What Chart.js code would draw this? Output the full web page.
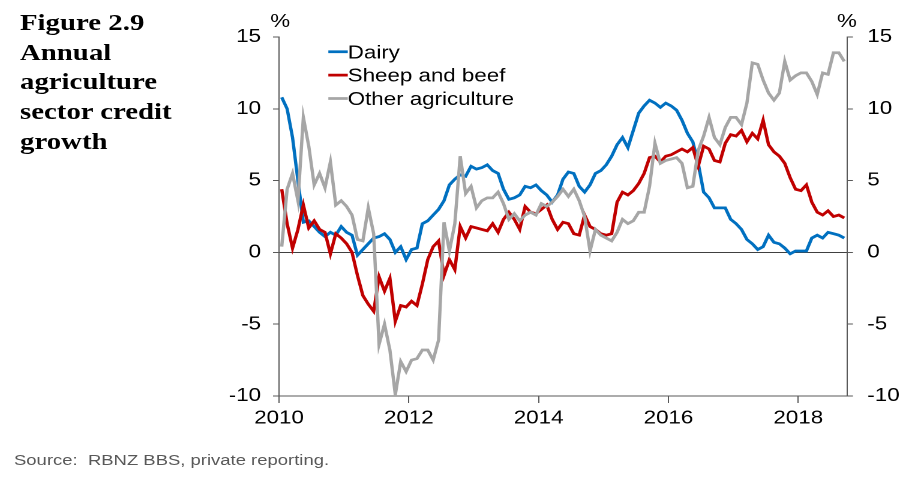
<!DOCTYPE html>
<html>
<head>
<meta charset="utf-8">
<script src="https://cdn.jsdelivr.net/npm/chart.js@4.4.1/dist/chart.umd.min.js"></script>
<style>
body { margin: 0; background: #fff; }
#wrap { position: absolute; left: 0; top: 0; width: 755px; height: 482px; transform: scaleX(1.2); transform-origin: 0 0; }
#title { position: absolute; left: 16.7px; top: 8px; font: bold 24px/29.7px 'Liberation Serif', 'Times New Roman', serif; color: #000; }
#source { position: absolute; left: 11.7px; top: 451px; font: 15.4px 'Liberation Sans', Arial, sans-serif; color: #595959; white-space: pre; }
canvas { position: absolute; left: 0; top: 0; }
</style>
</head>
<body>
<div id="wrap">
  <div id="title">Figure 2.9<br>Annual<br>agriculture<br>sector credit<br>growth</div>
  <canvas id="creditChart" width="755" height="482"></canvas>
  <div id="source">Source:  RBNZ BBS, private reporting.</div>
</div>
<script>
// monthly annual growth, Jan 2010 - Sep 2018 (%)
const dairy = [10.8, 10.0, 8.0, 5.0, 2.1, 2.2, 1.8, 1.4, 1.1, 1.4,
  1.2, 1.8, 1.4, 1.2, -0.2, 0.2, 0.6, 1.0, 1.1, 1.3,
  0.9, 0.0, 0.4, -0.5, 0.2, 0.3, 2.0, 2.2, 2.6, 3.0,
  3.6, 4.7, 5.1, 5.4, 5.3, 6.0, 5.8, 5.9, 6.1, 5.7,
  5.5, 4.4, 3.7, 3.8, 4.0, 4.6, 4.5, 4.7, 4.3, 4.0,
  3.5, 4.0, 5.1, 5.6, 5.5, 4.6, 4.2, 4.7, 5.5, 5.7,
  6.1, 6.7, 7.5, 8.0, 7.3, 8.5, 9.7, 10.2, 10.6, 10.4,
  10.1, 10.4, 10.2, 9.9, 9.2, 8.3, 7.7, 6.2, 4.2, 3.8,
  3.1, 3.1, 3.1, 2.3, 2.0, 1.6, 0.9, 0.6, 0.2, 0.4,
  1.2, 0.7, 0.6, 0.3, -0.1, 0.1, 0.1, 0.1, 1.0, 1.2,
  1.0, 1.4, 1.3, 1.2, 1.0];
const sheepBeef = [4.4, 2.0, 0.3, 1.6, 3.3, 1.7, 2.2, 1.6, 1.4, -0.1,
  1.3, 1.0, 0.6, 0.0, -1.6, -3.0, -3.6, -4.1, -1.7, -2.7,
  -1.8, -4.8, -3.7, -3.8, -3.4, -3.7, -2.2, -0.5, 0.4, 0.8,
  -1.6, -0.5, -1.2, 1.8, 1.0, 1.8, 1.7, 1.6, 1.5, 2.0,
  1.4, 2.3, 2.8, 2.3, 1.6, 3.2, 2.8, 2.7, 3.0, 3.3,
  2.3, 1.6, 2.1, 2.0, 1.3, 1.2, 2.6, 1.8, 1.6, 1.3,
  1.2, 1.3, 3.5, 4.2, 4.0, 4.3, 4.8, 5.5, 6.6, 6.7,
  6.3, 6.7, 6.8, 7.0, 7.2, 7.0, 7.3, 6.0, 7.4, 7.2,
  6.4, 6.3, 7.6, 8.2, 8.1, 8.5, 7.7, 8.3, 7.9, 9.2,
  7.5, 7.0, 6.7, 6.2, 5.2, 4.4, 4.3, 4.7, 3.5, 2.8,
  2.6, 2.9, 2.5, 2.6, 2.4];
const otherAg = [0.4, 4.4, 5.5, 3.6, 9.4, 7.4, 4.7, 5.5, 4.5, 6.3,
  3.3, 3.6, 3.2, 2.6, 0.9, 0.8, 3.1, 1.3, -6.4, -5.0,
  -6.8, -9.9, -7.6, -8.3, -7.5, -7.4, -6.8, -6.8, -7.5, -6.1,
  2.1, 0.1, 2.0, 6.7, 4.1, 4.6, 3.1, 3.6, 3.8, 3.8,
  4.2, 3.4, 2.3, 2.7, 2.2, 2.6, 2.8, 2.6, 3.4, 3.2,
  3.5, 3.9, 4.4, 3.9, 4.4, 3.6, 2.5, 0.1, 1.6, 1.2,
  1.0, 0.8, 1.4, 2.3, 2.0, 2.2, 2.8, 2.8, 4.6, 7.6,
  6.2, 6.4, 6.5, 6.6, 6.2, 4.5, 4.6, 7.1, 8.1, 9.4,
  8.0, 7.5, 8.7, 9.4, 9.4, 8.9, 10.4, 13.2, 13.1, 12.0,
  11.1, 10.6, 11.1, 13.3, 12.0, 12.3, 12.5, 12.5, 11.9, 11.0,
  12.5, 12.4, 13.9, 13.9, 13.3];

const tickMonths = [0, 24, 48, 72, 96];
const yearLabels = ['2010', '2012', '2014', '2016', '2018'];

const FONT = "'Liberation Sans', Arial, sans-serif";
const AXIS = '#595959';

// points sit mid-month
const toPoints = arr => arr.map((v, i) => ({ x: i + 0.5, y: v }));

// legend inside the plot + the two % marks
const extras = {
    id: 'extras',
    afterDraw(chart) {
        const ctx = chart.ctx;
        const area = chart.chartArea;
        ctx.save();
        ctx.font = '18.6px ' + FONT;
        ctx.textBaseline = 'alphabetic';
        chart.data.datasets.forEach((ds, i) => {
            const base = 58.3 + i * 23.4;
            ctx.strokeStyle = ds.borderColor;
            ctx.lineWidth = 2.75;
            ctx.beginPath();
            ctx.moveTo(273.6, base - 6.6);
            ctx.lineTo(289.8, base - 6.6);
            ctx.stroke();
            ctx.fillStyle = '#000';
            ctx.textAlign = 'left';
            ctx.fillText(ds.label, 289.8, base);
        });
        ctx.textAlign = 'center';
        ctx.fillText('%', area.left + 1, 27);
        ctx.fillText('%', area.right, 27);
        ctx.restore();
    }
};

new Chart(document.getElementById('creditChart'), {
    type: 'line',
    data: {
        datasets: [
            { label: 'Dairy', data: toPoints(dairy), borderColor: '#0070C0', order: 3 },
            { label: 'Sheep and beef', data: toPoints(sheepBeef), borderColor: '#C00000', order: 2 },
            { label: 'Other agriculture', data: toPoints(otherAg), borderColor: '#A6A6A6', order: 1 }
        ]
    },
    options: {
        responsive: false,
        devicePixelRatio: 2,
        animation: false,
        layout: { padding: { top: 37, left: 0, right: 0, bottom: 0 } },
        elements: {
            line: { borderWidth: 2.75, tension: 0, fill: false },
            point: { radius: 0 }
        },
        plugins: { legend: { display: false }, tooltip: { enabled: false } },
        scales: {
            x: {
                type: 'linear',
                min: 0,
                max: 105,
                afterBuildTicks: s => { s.ticks = tickMonths.map(v => ({ value: v })); },
                afterFit: s => { s.height = 86; },
                ticks: {
                    autoSkip: false,
                    maxRotation: 0,
                    padding: 4,
                    color: '#000',
                    font: { family: FONT, size: 18.6 },
                    callback: v => yearLabels[tickMonths.indexOf(v)]
                },
                grid: { drawOnChartArea: false, tickLength: 7, color: AXIS },
                border: { color: AXIS, width: 1 }
            },
            y: {
                position: 'left',
                min: -10,
                max: 15,
                afterFit: s => { s.width = 232.5; },
                ticks: { stepSize: 5, padding: 10, color: '#000', font: { family: FONT, size: 18.6 } },
                grid: {
                    color: c => (c.tick && c.tick.value === 0) ? '#404040' : 'rgba(0,0,0,0)',
                    tickColor: AXIS,
                    tickLength: 5,
                    lineWidth: 1
                },
                border: { color: AXIS, width: 1 }
            },
            y2: {
                position: 'right',
                min: -10,
                max: 15,
                afterFit: s => { s.width = 49.2; },
                ticks: { stepSize: 5, padding: 12, color: '#000', font: { family: FONT, size: 18.6 } },
                grid: { drawOnChartArea: false, tickLength: 5, color: AXIS },
                border: { color: AXIS, width: 1 }
            }
        }
    },
    plugins: [extras]
});
</script>
</body>
</html>
